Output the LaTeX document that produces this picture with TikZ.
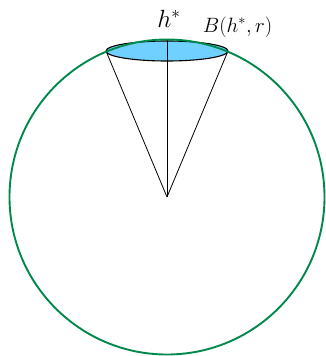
\documentclass[tikz,border=0pt]{standalone}
\usepackage{tikz}
\definecolor{ballgreen}{RGB}{0,137,74}
\definecolor{capblue}{RGB}{112,208,255}
\begin{document}
\begin{tikzpicture}[x=1pt,y=-1pt,
  sphere/.style={draw=ballgreen,line width=1.9pt},
  capdisc/.style={draw=black,fill=capblue,line width=1.1pt},
  ray/.style={draw=black,line width=0.8pt},
  biglabel/.style={inner sep=0pt,anchor=base,font=\fontsize{27}{31}\selectfont},
  smalllabel/.style={inner sep=0pt,anchor=base,font=\fontsize{21}{25}\selectfont}]
\useasboundingbox (0,0) rectangle (325,356);
\coordinate (O) at (167,197);
\coordinate (C) at (167,51);
\coordinate (L) at (106,51);
\coordinate (R) at (228,51);
\coordinate (T) at (167,40);
\path[capdisc] (C) ellipse [x radius=61, y radius=10];
\draw[ray] (O) -- (L);
\draw[ray] (O) -- (R);
\draw[ray] (O) -- (T);
\path[sphere] (O) circle [radius=157.5];
\node[biglabel] (h) at (169,27.5) {$h^*$};
\node[smalllabel] (b) at (237.5,32) {$B(h^*,r)$};
\end{tikzpicture}
\end{document}
